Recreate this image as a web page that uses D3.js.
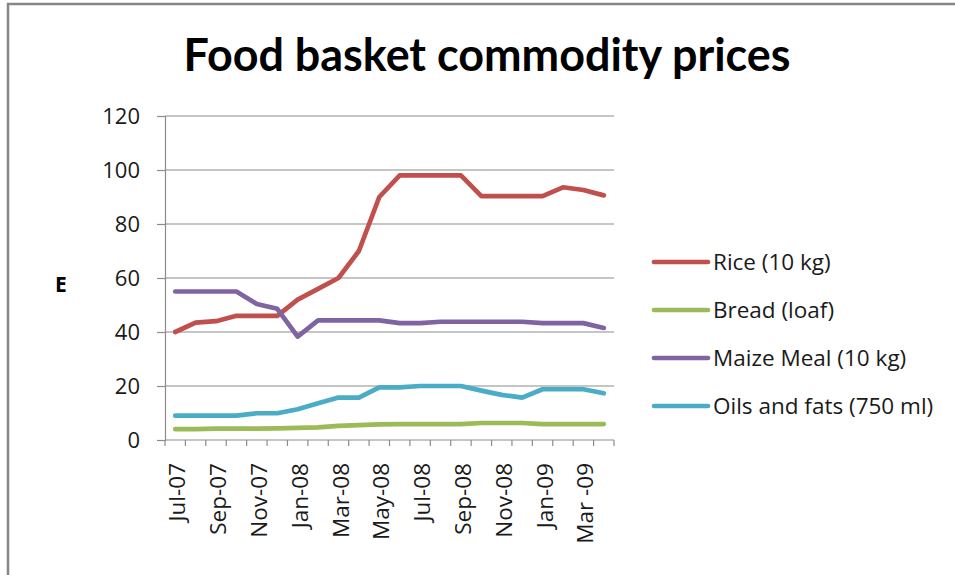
<!DOCTYPE html>
<html>
<head>
<meta charset="utf-8">
<script src="https://cdn.jsdelivr.net/npm/d3@7"></script>
<style>
  html, body { margin: 0; padding: 0; background: #fff; }
  svg { display: block; }
  text { font-family: "Open Sans", Lato, sans-serif; fill: #1a1a1a; }
</style>
</head>
<body>
<svg id="chart" width="955" height="575"></svg>
<script>
// Monthly categories, Jul 2007 to Apr 2009
const months = ["Jul-07","Aug-07","Sep-07","Oct-07","Nov-07","Dec-07","Jan-08","Feb-08",
  "Mar-08","Apr-08","May-08","Jun-08","Jul-08","Aug-08","Sep-08","Oct-08",
  "Nov-08","Dec-08","Jan-09","Feb-09","Mar -09","Apr-09"];

// Prices in E per item
const rice   = [40, 43.5, 44, 46, 46, 46, 52, 56, 60, 70, 90, 98, 98, 98, 98, 90.3, 90.3, 90.3, 90.3, 93.6, 92.6, 90.6];
const bread  = [4, 4, 4.2, 4.2, 4.2, 4.3, 4.5, 4.7, 5.2, 5.5, 5.8, 5.9, 5.9, 5.9, 5.9, 6.3, 6.3, 6.3, 5.9, 5.9, 5.9, 5.9];
const maize  = [55, 55, 55, 55, 50.4, 48.6, 38.3, 44.3, 44.3, 44.3, 44.3, 43.3, 43.3, 43.8, 43.8, 43.8, 43.8, 43.8, 43.3, 43.3, 43.3, 41.5];
const oils   = [9, 9, 9, 9, 9.9, 9.9, 11.4, 13.6, 15.7, 15.7, 19.5, 19.5, 20, 20, 20, 18.3, 16.7, 15.7, 18.8, 18.8, 18.8, 17.3];

const seriesNames  = ["Rice (10 kg)", "Bread (loaf)", "Maize Meal (10 kg)", "Oils and fats (750 ml)"];
const seriesColors = ["#C0504D", "#9BBB59", "#8064A2", "#4BACC6"];
const yTicks = [0, 20, 40, 60, 80, 100, 120];

const series = [rice, bread, maize, oils].map((values, i) => ({
  name: seriesNames[i], color: seriesColors[i], values
}));

const svg = d3.select("#chart");
const plot = { left: 165, right: 614, top: 116, bottom: 440 };

// Chart frame (top and left edges)
svg.append("line").attr("x1", 7).attr("x2", 955).attr("y1", 4).attr("y2", 4)
  .attr("stroke", "#868686").attr("stroke-width", 2.5);
svg.append("line").attr("x1", 8).attr("x2", 8).attr("y1", 3).attr("y2", 575)
  .attr("stroke", "#868686").attr("stroke-width", 2.5);

// Title
const title = svg.append("text")
  .attr("x", 487).attr("y", 71)
  .attr("text-anchor", "middle")
  .style("font-family", "Lato, 'Open Sans', sans-serif")
  .style("font-size", "40px").style("font-weight", "bold").style("fill", "#000")
  .text("Food basket commodity prices");
const tw = title.node().getComputedTextLength();
if (tw > 0) title.style("font-size", (40 * 607 / tw).toFixed(2) + "px");

const x = d3.scaleBand().domain(months).range([plot.left, plot.right]).padding(0);
const y = d3.scaleLinear().domain([0, 120]).range([plot.bottom, plot.top]);

// Horizontal gridlines
svg.append("g").selectAll("line").data(yTicks.filter(d => d > 0)).join("line")
  .attr("x1", plot.left).attr("x2", plot.right)
  .attr("y1", d => y(d)).attr("y2", d => y(d))
  .attr("stroke", "#8c8c8c").attr("stroke-width", 1.2);

// Y axis
const yAxis = svg.append("g").attr("transform", `translate(${plot.left},0)`)
  .call(d3.axisLeft(y).tickValues(yTicks).tickSize(8).tickPadding(17));
yAxis.select(".domain").attr("stroke", "#8c8c8c").attr("stroke-width", 1.2);
yAxis.selectAll(".tick line").attr("stroke", "#8c8c8c").attr("stroke-width", 1.2);
yAxis.selectAll(".tick text")
  .style("font-size", "22px").style("font-family", "'Open Sans', Lato, sans-serif")
  .attr("fill", "#1a1a1a");

// Y axis title
svg.append("text").attr("x", 61).attr("y", 292)
  .attr("text-anchor", "middle")
  .style("font-size", "21px").style("font-weight", "bold").style("fill", "#000")
  .text("E");

// X axis line with boundary ticks between months
const xg = svg.append("g");
xg.append("line").attr("x1", plot.left).attr("x2", plot.right)
  .attr("y1", plot.bottom).attr("y2", plot.bottom)
  .attr("stroke", "#8c8c8c").attr("stroke-width", 1.2);
const boundaries = months.map(m => x(m)).concat([x.range()[1]]);
xg.selectAll("line.tk").data(boundaries).join("line").attr("class", "tk")
  .attr("x1", d => d).attr("x2", d => d)
  .attr("y1", plot.bottom).attr("y2", plot.bottom + 6)
  .attr("stroke", "#8c8c8c").attr("stroke-width", 1.2);

// Rotated month labels, every second month
xg.selectAll("text").data(months.filter((m, i) => i % 2 === 0)).join("text")
  .attr("transform", d => `translate(${x(d) + x.bandwidth() / 2 + 2},${plot.bottom + 23}) rotate(-90)`)
  .attr("text-anchor", "end").attr("dy", "0.36em")
  .style("font-size", "22.5px")
  .text(d => d);

// Series lines
const line = d3.line()
  .x((d, i) => x(months[i]) + x.bandwidth() / 2)
  .y(d => y(d));

svg.append("g").selectAll("path").data(series).join("path")
  .attr("d", d => line(d.values))
  .attr("fill", "none")
  .attr("stroke", d => d.color)
  .attr("stroke-width", 4.7)
  .attr("stroke-linejoin", "round")
  .attr("stroke-linecap", "round");

// Legend
const legend = svg.append("g");
const lg = legend.selectAll("g").data(series).join("g")
  .attr("transform", (d, i) => `translate(654,${262 + i * 48})`);
lg.append("line").attr("x1", 0).attr("x2", 54).attr("y1", 0).attr("y2", 0)
  .attr("stroke", d => d.color).attr("stroke-width", 4.7).attr("stroke-linecap", "round");
lg.append("text").attr("x", 59).attr("y", 0).attr("dy", "0.36em")
  .style("font-size", "22.5px")
  .text(d => d.name);
</script>
</body>
</html>
